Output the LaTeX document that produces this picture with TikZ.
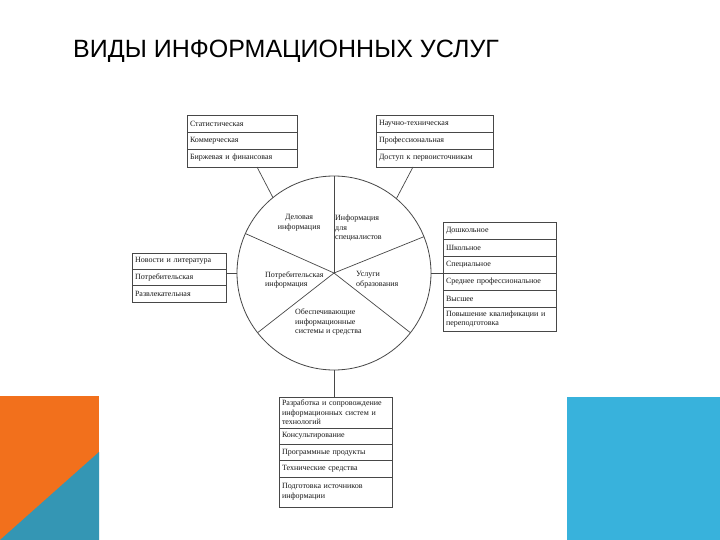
\documentclass[tikz,border=0pt]{standalone}
\usepackage{fontspec}
\setmainfont{Liberation Serif}
\newfontfamily\titlefont{Liberation Sans}
\usetikzlibrary{positioning}
\definecolor{slideorange}{RGB}{242,112,28}
\definecolor{slideteal}{RGB}{52,150,180}
\definecolor{slideblue}{RGB}{56,178,220}
\definecolor{lineclr}{gray}{0.28}
\definecolor{txtclr}{gray}{0.1}
\tikzset{
  rowbox/.style={draw=lineclr, line width=0.7pt, text=txtclr, fill=white,
                 font=\fontsize{8}{9.5}\selectfont, align=left,
                 inner xsep=3pt, inner ysep=2pt, outer sep=0pt,
                 minimum height=17pt, text width=#1},
  wedgetext/.style={text=txtclr, font=\fontsize{8}{9.8}\selectfont, inner sep=0pt},
  spoke/.style={draw=lineclr, line width=0.7pt}
}

\begin{document}
\begin{tikzpicture}[x=1pt, y=-1pt, node distance=0pt]
        \useasboundingbox (0,0) rectangle (720,540);
        \fill[white] (0,0) rectangle (720,540);

        % slide decoration
        \fill[slideorange] (0,396) rectangle (99,540);
        \fill[slideteal] (0,540) -- (99,452) -- (99,540) -- cycle;
        \fill[slideblue] (567,397) rectangle (720,540);

        \node[anchor=base west, inner sep=0pt, text=black,
              font=\titlefont\fontsize{25}{30}\selectfont] (title) at (73,58)
              {ВИДЫ ИНФОРМАЦИОННЫХ УСЛУГ};

        % central wheel
        \node[circle, draw=lineclr, line width=0.8pt, minimum size=194pt,
              inner sep=0pt, outer sep=0pt] (wheel) at (334,273) {};
        \foreach \a in {90,22,-38,-142,156}
          \draw[spoke] (wheel.center) -- (wheel.\a);

        \node[wedgetext, align=center] (biz) at (299,223) {Деловая\\информация};
        \node[wedgetext, align=left, anchor=west] (spec) at (335,228)
              {Информация\\для\\специалистов};
        \node[wedgetext, align=left, anchor=west] (edu) at (356,280)
              {Услуги\\образования};
        \node[wedgetext, align=left, anchor=west] (cons) at (265,280)
              {Потребительская\\информация};
        \node[wedgetext, align=left, anchor=west] (supp) at (295,322)
              {Обеспечивающие\\информационные\\системы и средства};

        % top left
        \node[rowbox=104pt, anchor=north west] (tl1) at (187,115) {Статистическая};
        \node[rowbox=104pt, below=of tl1] (tl2) {Коммерческая};
        \node[rowbox=104pt, below=of tl2, minimum height=18pt] (tl3) {Биржевая и финансовая};

        % top right
        \node[rowbox=111pt, anchor=north west] (tr1) at (376,115) {Научно-техническая};
        \node[rowbox=111pt, below=of tr1] (tr2) {Профессиональная};
        \node[rowbox=111pt, below=of tr2, minimum height=18pt] (tr3) {Доступ к первоисточникам};

        % left
        \node[rowbox=88pt, anchor=north west, minimum height=16.3pt] (lb1) at (132,253) {Новости и литература};
        \node[rowbox=88pt, below=of lb1, minimum height=16.3pt] (lb2) {Потребительская};
        \node[rowbox=88pt, below=of lb2, minimum height=16.3pt] (lb3) {Развлекательная};

        % right
        \node[rowbox=107pt, anchor=north west] (rb1) at (443,222) {Дошкольное};
        \node[rowbox=107pt, below=of rb1] (rb2) {Школьное};
        \node[rowbox=107pt, below=of rb2] (rb3) {Специальное};
        \node[rowbox=107pt, below=of rb3] (rb4) {Среднее профессиональное};
        \node[rowbox=107pt, below=of rb4] (rb5) {Высшее};
        \node[rowbox=107pt, below=of rb5, minimum height=24pt] (rb6)
              {Повышение квалификации и\\переподготовка};

        % bottom
        \node[rowbox=107pt, anchor=north west, minimum height=31pt] (bx1) at (279,397)
              {Разработка и сопровождение\\информационных систем и\\технологий};
        \node[rowbox=107pt, below=of bx1, minimum height=16.3pt] (bx2) {Консультирование};
        \node[rowbox=107pt, below=of bx2, minimum height=16.3pt] (bx3) {Программные продукты};
        \node[rowbox=107pt, below=of bx3, minimum height=16.3pt] (bx4) {Технические средства};
        \node[rowbox=107pt, below=of bx4, minimum height=30pt] (bx5)
              {Подготовка источников\\информации};

        % connectors
        \draw[spoke] (wheel.129) -- ([xshift=15pt]tl3.south);
        \draw[spoke] (wheel.50) -- ([xshift=-21.5pt]tr3.south);
        \draw[spoke] (wheel.west) -- (wheel.west -| lb2.east);
        \draw[spoke] (wheel.east) -- (wheel.east -| rb4.west);
        \draw[spoke] (wheel.south) -- (wheel.south |- bx1.north);
\end{tikzpicture}
\end{document}
